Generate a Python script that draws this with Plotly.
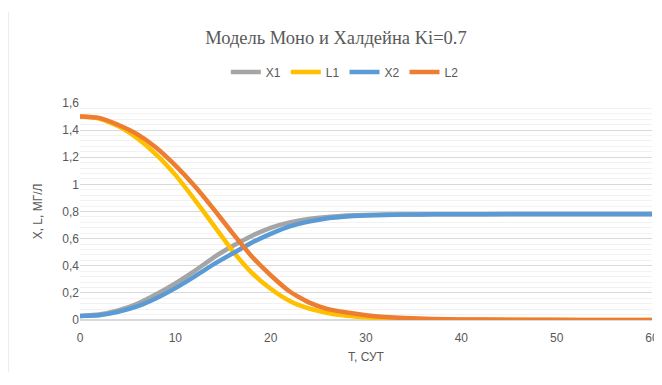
import plotly.graph_objects as go

# Time grid (days)
t = [0, 2, 4, 6, 8, 10, 12, 14, 16, 18, 20, 22, 24, 26, 28, 30, 32, 34, 37, 40, 45, 50, 55, 60]

X1 = [0.03, 0.04, 0.07, 0.12, 0.19, 0.27, 0.36, 0.46, 0.545, 0.62, 0.68, 0.72, 0.745, 0.76,
      0.77, 0.775, 0.777, 0.778, 0.779, 0.78, 0.78, 0.78, 0.78, 0.78]
L1 = [1.50, 1.485, 1.43, 1.34, 1.22, 1.07, 0.89, 0.70, 0.51, 0.35, 0.23, 0.14, 0.085, 0.052,
      0.032, 0.02, 0.012, 0.007, 0.004, 0.002, 0.001, 0.0, 0.0, 0.0]
X2 = [0.03, 0.035, 0.06, 0.10, 0.16, 0.235, 0.32, 0.41, 0.49, 0.57, 0.635, 0.69, 0.725, 0.75,
      0.763, 0.77, 0.775, 0.777, 0.779, 0.78, 0.781, 0.781, 0.781, 0.781]
L2 = [1.50, 1.49, 1.44, 1.37, 1.27, 1.14, 0.99, 0.82, 0.64, 0.47, 0.33, 0.21, 0.13, 0.08,
      0.055, 0.035, 0.022, 0.014, 0.008, 0.004, 0.002, 0.001, 0.0, 0.0]

series = [("X1", X1, "#A5A5A5"), ("L1", L1, "#FFC000"), ("X2", X2, "#5B9BD5"), ("L2", L2, "#ED7D31")]

fig = go.Figure()
for name, ys, col in series:
    fig.add_trace(go.Scatter(x=t, y=ys, name=name, mode="lines",
                             line=dict(color=col, width=4.5, shape="spline", smoothing=0.5)))

# page body has an 8px default margin; figure sized so the page does not overflow
fig.update_layout(
    width=654, height=377,
    margin=dict(l=72, r=10, t=95, b=65, autoexpand=False),
    paper_bgcolor="white", plot_bgcolor="white",
    separators=", ",
    font=dict(family="Liberation Sans", size=12, color="#595959"),
    title=dict(text="Модель Моно и Халдейна Ki=0.7", x=0.5015, y=0.923, xanchor="center", yanchor="middle",
               xref="container", yref="container",
               font=dict(family="Liberation Serif", size=18.5, color="#595959")),
    legend=dict(orientation="h", x=0.463, y=1.143, xanchor="center", yanchor="middle",
                xref="paper", yref="paper", font=dict(size=12, color="#595959"),
                itemwidth=30, bgcolor="rgba(0,0,0,0)"),
    showlegend=True,
)

fig.update_xaxes(range=[0, 60], dtick=10, showgrid=False, zeroline=False, showline=False,
                 ticks="", automargin=False, ticklabelstandoff=9, tickfont=dict(size=12, color="#595959"),
                 title=dict(text="T, СУТ", font=dict(size=12, color="#595959"), standoff=8))
fig.update_yaxes(range=[0, 1.6], dtick=0.2, showgrid=True, gridcolor="#D9D9D9", gridwidth=1,
                 zeroline=True, zerolinecolor="#D9D9D9", showline=False, ticks="",
                 automargin=False, tickfont=dict(size=12, color="#595959"),
                 minor=dict(dtick=0.04, showgrid=True, gridcolor="#F2F2F2", gridwidth=1),
                 title=dict(text="X, L, МГ/Л", font=dict(size=12, color="#595959"), standoff=17))

fig.add_shape(type="line", xref="paper", yref="paper", x0=-0.1259, x1=-0.1259, y0=-0.24, y1=1.419,
              line=dict(color="#D9D9D9", width=1))

fig.write_html("out.html")
